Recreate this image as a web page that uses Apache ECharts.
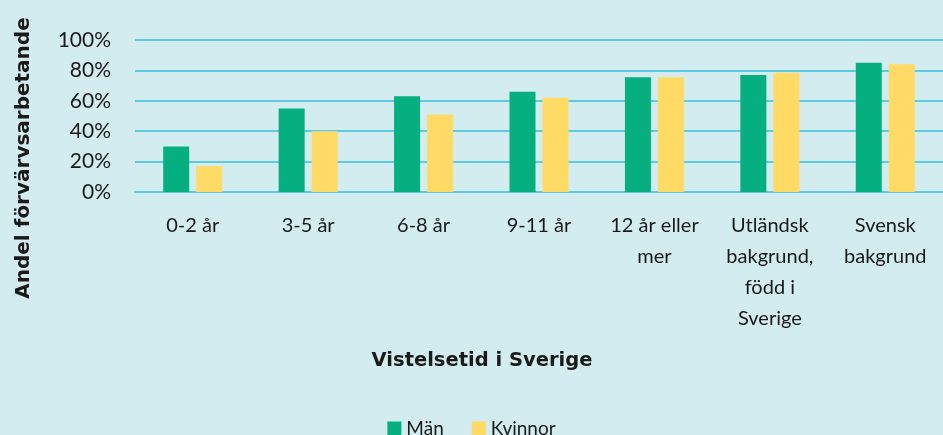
<!DOCTYPE html>
<html>
<head>
<meta charset="utf-8">
<script src="https://cdn.jsdelivr.net/npm/echarts@6/dist/echarts.min.js"></script>
<style>
  html, body { margin: 0; padding: 0; background: #d3ecef; }
  #chart { width: 943px; height: 435px; }
</style>
</head>
<body>
<div id="chart"></div>
<script>
var categories = ['0-2 år', '3-5 år', '6-8 år', '9-11 år', '12 år eller\nmer', 'Utländsk\nbakgrund,\nfödd i\nSverige', 'Svensk\nbakgrund'];
var man = [30, 55, 63, 66, 75.5, 77, 85];
var kvinnor = [17, 40, 51, 62, 75.5, 78.5, 84];
var yTicks = [0, 100, 20];

var font = 'Lato';
var titleFont = 'DejaVu Sans';
var chart = echarts.init(document.getElementById('chart'));

var option = {
    backgroundColor: '#d3ecef',
    textStyle: { fontFamily: font },
    grid: { left: 135, right: 0, top: 40, bottom: 243, containLabel: false },
    legend: {
        top: 414,
        left: 'center',
        itemWidth: 14,
        itemHeight: 14,
        itemGap: 28,
        icon: 'rect',
        textStyle: { fontSize: 19, color: '#1a1a1a', fontFamily: font },
        data: ['Män', 'Kvinnor']
    },
    xAxis: {
        type: 'category',
        data: categories,
        axisLine: { lineStyle: { color: '#5fcbe0', width: 2 } },
        axisTick: { show: false },
        axisLabel: { interval: 0, fontSize: 20, color: '#1a1a1a', margin: 18, lineHeight: 31 }
    },
    yAxis: {
        type: 'value',
        min: yTicks[0],
        max: yTicks[1],
        interval: yTicks[2],
        axisLabel: { formatter: '{value}%', fontSize: 21, color: '#1a1a1a', margin: 24 },
        splitLine: { lineStyle: { color: '#5fcbe0', width: 2 } },
        axisLine: { show: false },
        axisTick: { show: false }
    },
    graphic: [{
        type: 'text',
        x: 24,
        y: 158,
        rotation: Math.PI / 2,
        style: {
            text: 'Andel förvärvsarbetande',
            fontFamily: titleFont,
            fontSize: 20,
            fontWeight: 'bold',
            fill: '#1a1a1a',
            textAlign: 'center',
            textVerticalAlign: 'middle'
        }
    }, {
        type: 'text',
        x: 482,
        y: 361,
        style: {
            text: 'Vistelsetid i Sverige',
            fontFamily: titleFont,
            fontSize: 19.5,
            fontWeight: 'bold',
            fill: '#1a1a1a',
            textAlign: 'center',
            textVerticalAlign: 'middle'
        }
    }],
    series: [
        {
            name: 'Män',
            type: 'bar',
            data: man,
            barWidth: 26,
            barGap: '27%',
            itemStyle: { color: '#05af80' }
        },
        {
            name: 'Kvinnor',
            type: 'bar',
            data: kvinnor,
            barWidth: 26,
            itemStyle: { color: '#ffdb66' }
        }
    ]
};

chart.setOption(option);
</script>
</body>
</html>
